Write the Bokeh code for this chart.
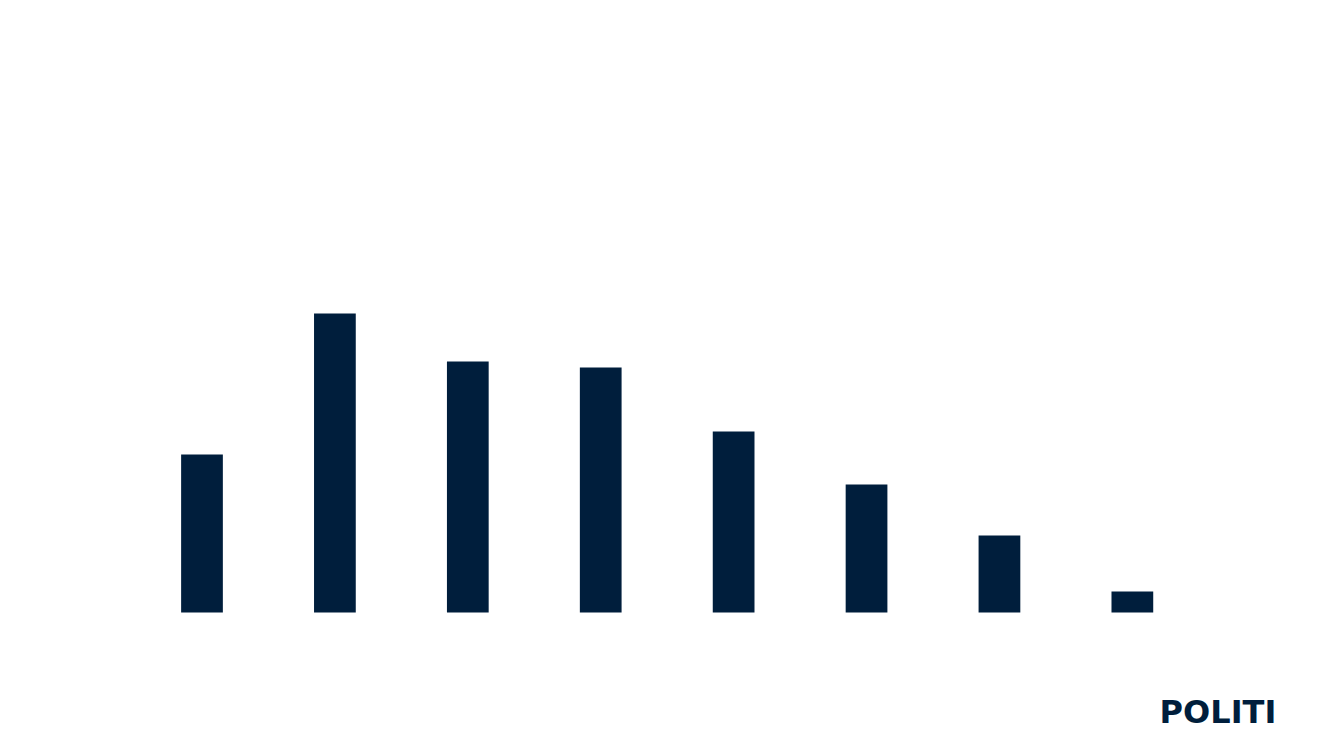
from bokeh.core.properties import value
from bokeh.embed import file_html
from bokeh.models import ColumnDataSource, Range1d
from bokeh.plotting import figure
from bokeh.resources import INLINE

# no labels in the picture, so the categories are just positions
categories = ["1", "2", "3", "4", "5", "6", "7", "8"]
counts = [158, 299, 251, 245, 181, 128, 77, 21]
logo_text = "POLITI"

navy = "#001e3c"

xs = list(range(len(categories)))
source = ColumnDataSource(data=dict(x=xs, top=counts, cat=categories))

p = figure(width=1317, height=734,
           x_range=Range1d(-1.516, 8.393), y_range=Range1d(-122, 612),
           output_backend="svg", toolbar_location=None,
           min_border=0, outline_line_color=None)
p.axis.visible = False
p.grid.visible = False
p.background_fill_color = "white"
p.border_fill_color = "white"

p.vbar(x="x", top="top", bottom=0, width=0.314, source=source,
       fill_color=navy, line_color=None)

p.text(x=[7.205], y=[-99], text=[logo_text],
       text_font=value("DejaVu Sans"), text_font_style="bold",
       text_font_size="32px", text_color=navy,
       text_align="left", text_baseline="middle")

open("out.html", "w").write(file_html(p, INLINE))
